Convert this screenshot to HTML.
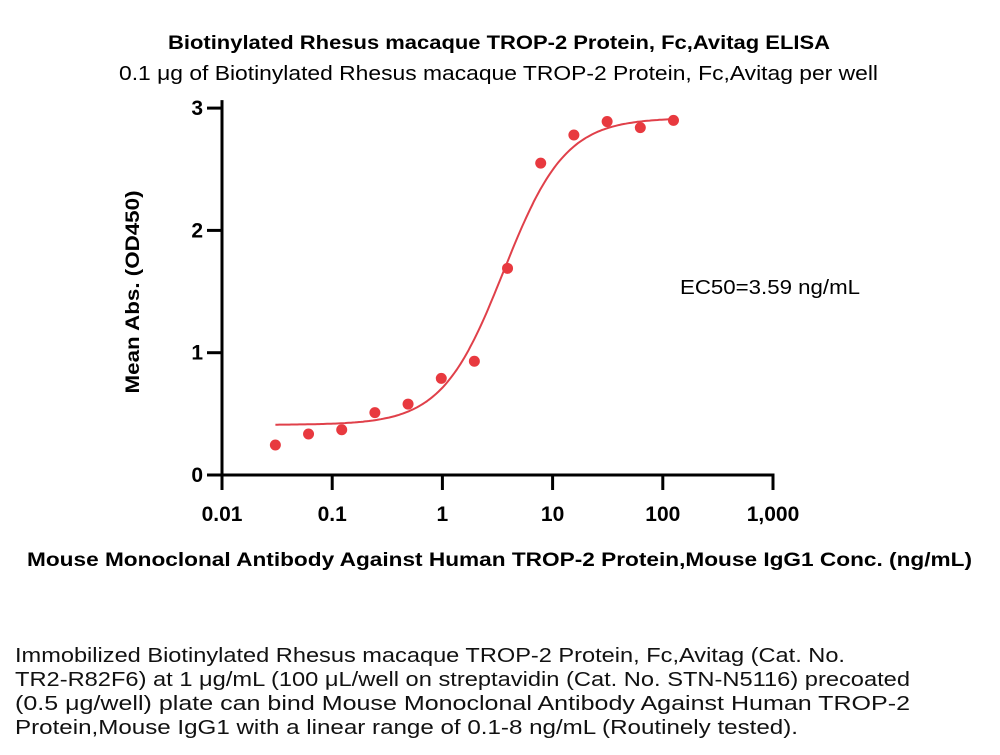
<!DOCTYPE html>
<html><head><meta charset="utf-8"><style>
body{margin:0;background:#fff;width:1000px;height:755px;overflow:hidden;font-family:"Liberation Sans",sans-serif}
</style></head><body>
<svg width="1000" height="755" style="position:absolute;left:0;top:0">
<text x="168" y="49" font-size="19" font-weight="bold" textLength="662" lengthAdjust="spacingAndGlyphs">Biotinylated Rhesus macaque TROP-2 Protein, Fc,Avitag ELISA</text>
<text x="119" y="80" font-size="20" textLength="759" lengthAdjust="spacingAndGlyphs">0.1 μg of Biotinylated Rhesus macaque TROP-2 Protein, Fc,Avitag per well</text>
<text transform="translate(139,292) rotate(-90)" text-anchor="middle" font-size="19" font-weight="bold" textLength="203" lengthAdjust="spacingAndGlyphs">Mean Abs. (OD450)</text>
<text x="27" y="566" font-size="19" font-weight="bold" textLength="945" lengthAdjust="spacingAndGlyphs">Mouse Monoclonal Antibody Against Human TROP-2 Protein,Mouse IgG1 Conc. (ng/mL)</text>
<text x="680" y="294" font-size="20" textLength="180" lengthAdjust="spacingAndGlyphs">EC50=3.59 ng/mL</text>
<g font-size="20" fill="#111">
<text x="15" y="662" textLength="830" lengthAdjust="spacingAndGlyphs">Immobilized Biotinylated Rhesus macaque TROP-2 Protein, Fc,Avitag (Cat. No.</text>
<text x="15" y="686" textLength="895" lengthAdjust="spacingAndGlyphs">TR2-R82F6) at 1 μg/mL (100 μL/well on streptavidin (Cat. No. STN-N5116) precoated</text>
<text x="15" y="710" textLength="895" lengthAdjust="spacingAndGlyphs">(0.5 μg/well) plate can bind Mouse Monoclonal Antibody Against Human TROP-2</text>
<text x="15" y="734" textLength="783" lengthAdjust="spacingAndGlyphs">Protein,Mouse IgG1 with a linear range of 0.1-8 ng/mL (Routinely tested).</text>
</g>
<g id="ax"></g><g id="marks"></g>
</svg>
<script>
const concs=[0.0305,0.061,0.122,0.244,0.488,0.977,1.95,3.9,7.8,15.6,31.25,62.5,125];
const ods=[0.245,0.335,0.37,0.51,0.58,0.79,0.93,1.69,2.55,2.78,2.89,2.84,2.90];
const fitParams=[0.41,2.92,3.59,1.55];
const xTicks=[0.01,0.1,1,10,100,1000];
const xTickLabels=["0.01","0.1","1","10","100","1,000"];
const yTicks=[0,1,2,3];
const NS="http://www.w3.org/2000/svg";
const X=v=>222+(Math.log10(v)+2)*110.2;
const Y=v=>475-v*122.3;
function mk(t,a,p){const e=document.createElementNS(NS,t);for(const k in a)e.setAttribute(k,a[k]);p.appendChild(e);return e;}
const ax=document.getElementById('ax'),mg=document.getElementById('marks');
let l=mk('line',{x1:222,y1:Y(3)-8,x2:222,y2:476,stroke:'#000','stroke-width':3},ax);


l=mk('line',{x1:207,y1:475,x2:X(1000)+1.5,y2:475,stroke:'#000','stroke-width':3},ax);


yTicks.forEach(v=>{
 const t=mk('line',{x1:207,y1:Y(v),x2:222,y2:Y(v),stroke:'#000','stroke-width':3},ax);
 
 
 const s=mk('text',{x:203,y:Y(v)+7,'text-anchor':'end','font-size':21,'font-weight':'bold'},ax);s.textContent=v;
 
 
});
xTicks.forEach((v,i)=>{
 const t=mk('line',{x1:X(v),y1:475,x2:X(v),y2:490,stroke:'#000','stroke-width':3},ax);
 
 
 const s=mk('text',{x:X(v),y:521,'text-anchor':'middle','font-size':21,'font-weight':'bold'},ax);s.textContent=xTickLabels[i];
 
 
});
const [b,tp,ec,h]=fitParams;let d='';
for(let i=0;i<=200;i++){const lx=Math.log10(concs[0])+(Math.log10(concs[concs.length-1])-Math.log10(concs[0]))*i/200;const c=Math.pow(10,lx);
 const y=b+(tp-b)/(1+Math.pow(ec/c,h));d+=(i?'L':'M')+X(c).toFixed(1)+','+Y(y).toFixed(1);}
const fc=mk('path',{d:d,fill:'none',stroke:'#e0404a','stroke-width':2},mg);


concs.forEach((c,i)=>{const p=mk('circle',{cx:X(c),cy:Y(ods[i]),r:5.5,fill:'#e8393f'},mg);
 
 });
</script>
</body></html>
